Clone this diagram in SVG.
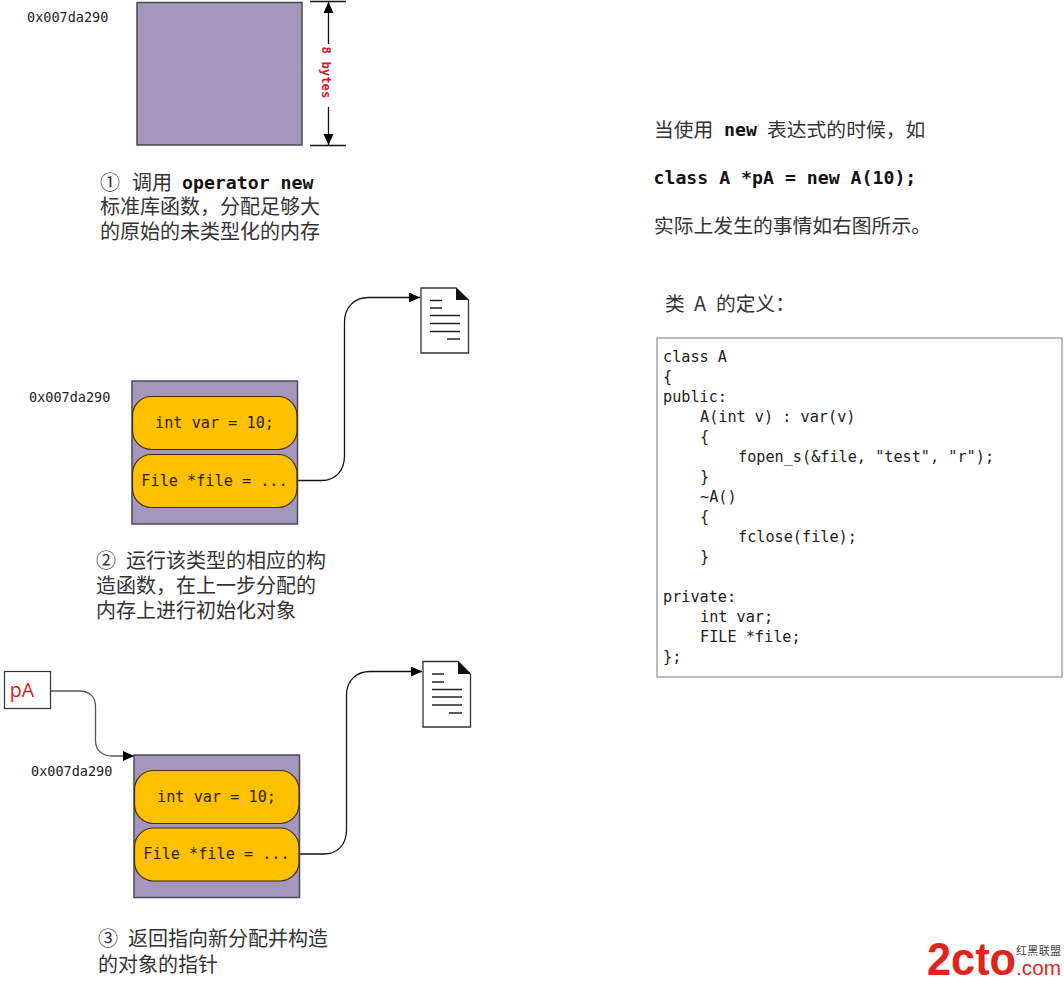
<svg xmlns="http://www.w3.org/2000/svg" width="1064" height="986" viewBox="0 0 1064 986">
<style>
.mem{fill:#a597bc;stroke:#4a4a55;stroke-width:1.5}
.slot{fill:#ffc000;stroke:#3b2f10;stroke-width:1.2}
.doc{fill:#fff;stroke:#333;stroke-width:1.3}
.docl{stroke:#222;stroke-width:1.5;fill:none}
.m{font-family:"DejaVu Sans Mono","Liberation Mono",monospace;fill:#222}
.addr{font-size:13.5px}
.slotT{font-size:15.2px;text-anchor:middle;fill:#2a2310}
.code{font-size:15.2px;fill:#222}
.b{font-family:"DejaVu Sans Mono","Liberation Mono",monospace;font-size:18.2px;font-weight:bold;fill:#111}
.c{font-family:"Noto Sans CJK SC","Noto Sans",sans-serif;font-size:20px;fill:#333}
.r{font-size:19.8px}
.l{fill:none;stroke:#111;stroke-width:1.3}
</style>
<defs>
<marker id="arr" markerUnits="userSpaceOnUse" markerWidth="13" markerHeight="12" refX="11" refY="5" orient="auto"><path d="M0,0L11,5L0,10Z" fill="#000"/></marker>
<marker id="arrStart" markerUnits="userSpaceOnUse" markerWidth="13" markerHeight="12" refX="0" refY="5" orient="auto"><path d="M11,0L0,5L11,10Z" fill="#000"/></marker>
</defs>
<rect width="1064" height="986" fill="#fff"/>
<g id="connectors">
<path class="l" d="M310,1.500H346M310,145.500H346"/>
<path class="l" d="M328.500,2V44M328.500,107V145" marker-start="url(#arrStart)" marker-end="url(#arr)"/>
<path class="l" d="M298,480.500H322C335,480.500 344.500,471 344.500,456V322C344.500,307 355,297.500 368,297.500H420" marker-end="url(#arr)"/>
<path class="l" d="M300,854H324C337,854 346.500,845 346.500,830V695C346.500,680 357,671.500 370,671.500H422" marker-end="url(#arr)"/>
<path class="l" style="stroke:#555" d="M51,691H80C89,691 95.500,697 95.500,706V741C95.500,750 102,756 112,756H134" marker-end="url(#arr)"/>
</g>
<g id="block1">
<rect class="mem" x="137" y="2.500" width="165" height="142.500"/>
<text class="m addr" x="27" y="22">0x007da290</text>
<text x="322" y="72.500" transform="rotate(90 322 72.500)" text-anchor="middle" font-family="'DejaVu Sans Mono',monospace" font-size="12.300" font-weight="bold" fill="#d8132a">8 bytes</text>
</g>
<g id="caption1">
<text class="c" x="100" y="190">①</text><text class="c" x="132" y="190">调用</text><text class="b" x="182" y="189">operator new</text>
<text class="c" x="100" y="214">标准库函数，分配足够大</text>
<text class="c" x="100" y="239">的原始的未类型化的内存</text>
</g>
<g id="block2">
<rect class="mem" x="132" y="381" width="165.500" height="143"/>
<rect class="slot" x="132.500" y="396.500" width="164.500" height="53" rx="19"/>
<rect class="slot" x="132.500" y="454.500" width="164.500" height="53" rx="19"/>
<text class="m addr" x="29" y="402">0x007da290</text>
<text class="m slotT" x="214.500" y="428">int var = 10;</text>
<text class="m slotT" x="214.500" y="486">File *file = ...</text>
</g>
<g id="file2">
<path class="doc" d="M421,288H456L468.500,300V353H421Z"/>
<path d="M456,288L468.500,300H456Z" fill="#111"/>
<path class="docl" d="M430,300.500H442M430,308H442M430,315.500H460M430,323.500H460M430,331.500H460M447,339H460"/>
</g>
<g id="caption2">
<text class="c" x="96" y="568">②</text><text class="c" x="126" y="568">运行该类型的相应的构</text>
<text class="c" x="96" y="593">造函数，在上一步分配的</text>
<text class="c" x="96" y="618">内存上进行初始化对象</text>
</g>
<g id="pA">
<rect x="4.500" y="671.500" width="46" height="37" fill="#fff" stroke="#333" stroke-width="1.2"/>
<text x="22" y="697" text-anchor="middle" font-family="'Open Sans','Noto Sans',sans-serif" font-size="19.500" font-weight="500" fill="#e0141c">pA</text>
</g>
<g id="block3">
<rect class="mem" x="134" y="755" width="165.500" height="142.500"/>
<rect class="slot" x="134.500" y="770.500" width="164.500" height="53" rx="19"/>
<rect class="slot" x="134.500" y="828" width="164.500" height="53" rx="19"/>
<text class="m addr" x="31" y="776">0x007da290</text>
<text class="m slotT" x="216.500" y="802">int var = 10;</text>
<text class="m slotT" x="216.500" y="859">File *file = ...</text>
</g>
<g id="file3">
<path class="doc" d="M423,661.500H458L470.500,674V727H423Z"/>
<path d="M458,661.500L470.500,674H458Z" fill="#111"/>
<path class="docl" d="M432,674H444M432,682H444M432,689.500H462M432,697H462M432,705H462M449,713H462"/>
</g>
<g id="caption3">
<text class="c" x="98" y="946">③</text><text class="c" x="128" y="946">返回指向新分配并构造</text>
<text class="c" x="98" y="972">的对象的指针</text>
</g>
<g id="intro">
<text class="c r" x="654" y="137">当使用</text><text class="b" x="724" y="136">new</text><text class="c r" x="767" y="137">表达式的时候，如</text>
<text class="b" x="653.500" y="184">class A *pA = new A(10);</text>
<text class="c r" x="654" y="233">实际上发生的事情如右图所示。</text>
<text class="c r" x="665" y="311">类</text><text class="c r" x="694" y="311">A</text><text class="c r" x="716" y="311">的定义：</text>
</g>
<g id="code">
<rect x="657" y="338" width="405" height="339" fill="#fff" stroke="#999" stroke-width="1.300"/>
<text class="m code" x="663" y="362">class A</text>
<text class="m code" x="663" y="382">{</text>
<text class="m code" x="663" y="402">public:</text>
<text class="m code" x="700" y="422">A(int v) : var(v)</text>
<text class="m code" x="700" y="442">{</text>
<text class="m code" x="738" y="462">fopen_s(&amp;file, "test", "r");</text>
<text class="m code" x="700" y="482">}</text>
<text class="m code" x="700" y="502">~A()</text>
<text class="m code" x="700" y="522">{</text>
<text class="m code" x="738" y="542">fclose(file);</text>
<text class="m code" x="700" y="562">}</text>
<text class="m code" x="663" y="602">private:</text>
<text class="m code" x="700" y="622">int var;</text>
<text class="m code" x="700" y="642">FILE *file;</text>
<text class="m code" x="663" y="662">};</text>
</g>
<g id="logo">
<text x="927" y="975" font-family="'Liberation Sans',sans-serif" font-size="46" font-weight="bold" fill="#e2231a" textLength="89" lengthAdjust="spacingAndGlyphs">2cto</text>
<text x="1016" y="955" font-family="'Noto Sans CJK SC',sans-serif" font-size="11" fill="#444" textLength="45">红黑联盟</text>
<text x="1016" y="975" font-family="'Liberation Sans',sans-serif" font-size="20" fill="#e2231a" textLength="45" lengthAdjust="spacingAndGlyphs">.com</text>
</g>
</svg>
